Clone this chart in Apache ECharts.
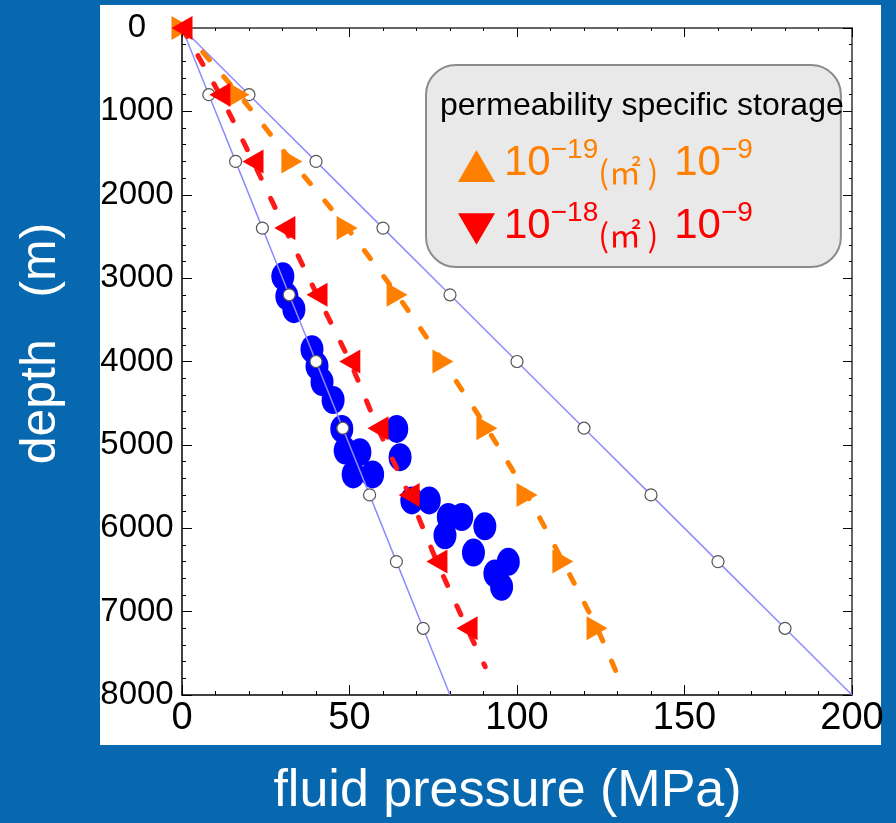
<!DOCTYPE html>
<html>
<head>
<meta charset="utf-8">
<script src="https://cdn.jsdelivr.net/npm/echarts@6/dist/echarts.min.js"></script>
<style>
  html, body { margin: 0; padding: 0; background: #0768b0; }
  #chart { width: 896px; height: 823px; }
</style>
</head>
<body>
<div id="chart"></div>
<script>
// Axis ticks
const pressureTicks = [0, 50, 100, 150, 200];          // MPa
const depthTicks = [0, 1000, 2000, 3000, 4000, 5000, 6000, 7000, 8000]; // m

// Reference gradients, sampled every 800 m
const gradientDepths = [0, 800, 1600, 2400, 3200, 4000, 4800, 5600, 6400, 7200, 8000];
const hydrostaticPressure = [0, 8, 16, 24, 32, 40, 48, 56, 64, 72, 80];
const lithostaticPressure = [0, 20, 40, 60, 80, 100, 120, 140, 160, 180, 200];

// Model results (marker depths), last entry is where each curve stops
const modelDepths = [0, 800, 1600, 2400, 3200, 4000, 4800, 5600, 6400, 7200, 7760];
const k19Pressure = [0, 17.0, 32.8, 49.3, 64.2, 77.9, 91.0, 103.0, 113.7, 123.9, 130.0];
const k18Depths = [0, 800, 1600, 2400, 3200, 4000, 4800, 5600, 6400, 7200, 7660];
const k18Pressure = [0, 11.3, 21.2, 30.7, 40.3, 50.1, 58.5, 67.8, 76.1, 85.1, 90.5];

// Measured fluid pressures
const measuredPressure = [30.1, 31.3, 33.4, 38.8, 40.3, 41.8, 45.1, 47.7, 48.7, 53.1, 51.1, 56.9,
  64.1, 65.1, 68.6, 73.8, 79.5, 83.5, 90.4, 78.5, 87.0, 97.4, 93.4, 95.4];
const measuredDepth = [2978, 3218, 3373, 3852, 4055, 4246, 4462, 4809, 5068, 5088, 5355, 5355,
  4809, 5147, 5666, 5666, 5865, 5865, 5977, 6085, 6292, 6403, 6543, 6702];

const ORANGE = '#ff8000';
const RED = '#ff0000';

function pairs(xs, ys) { return xs.map((x, i) => [x, ys[i]]); }

// hide the marker on the first/last point of a sampled line
function endsWithoutSymbol(points, hideFirst) {
  return points.map((p, i) => {
    const last = i === points.length - 1;
    if (last || (hideFirst && i === 0)) return { value: p, symbol: 'none' };
    return p;
  });
}

const legendLabels = {
  k19: '{of|10}{os|\u221219}{ou|(㎡\u2009)}{o|10}{os|\u22129}',
  k18: '{rf|10}{rs|\u221218}{ru|(㎡\u2009)}{r|10}{rs|\u22129}'
};

// 60px legend line: exponents hang from the top, units sit a little low
function richSet(prefix, color) {
  const s = {};
  s[prefix] = { color, fontSize: 42, fontFamily: 'Liberation Sans', lineHeight: 46, verticalAlign: 'top',
    padding: [6, 0, 0, 0] };
  s[prefix + 'f'] = Object.assign({}, s[prefix], { padding: [6, 0, 0, 4] });
  s[prefix + 's'] = { color, fontSize: 28, fontFamily: 'Liberation Sans', lineHeight: 30, verticalAlign: 'top' };
  s[prefix + 'u'] = { color, fontSize: 32, fontFamily: 'Noto Sans CJK JP', lineHeight: 60, verticalAlign: 'middle',
    padding: [12, 16, 0, 0] };
  return s;
}

const chart = echarts.init(document.getElementById('chart'), null, { renderer: 'canvas' });

const tickStyle = { color: '#000', width: 1 };
const mirrorAxis = {
  type: 'value',
  axisLine: { show: true, onZero: false, lineStyle: { color: '#333', width: 1.5 } },
  axisTick: { show: true, inside: true, length: 9, lineStyle: tickStyle },
  minorTick: { show: true, splitNumber: 5, length: 3, lineStyle: tickStyle },
  axisLabel: { show: false },
  splitLine: { show: false }
};

chart.setOption({
  animation: false,
  backgroundColor: '#0768b0',
  graphic: [{
    type: 'rect', z: -10, silent: true,
    shape: { x: 100, y: 5, width: 781, height: 740 },
    style: { fill: '#ffffff' }
  }],
  title: {
    text: 'permeability specific storage',
    left: 440, top: 90, padding: 0,
    textStyle: { fontSize: 32, fontWeight: 'normal', fontFamily: 'Liberation Sans', color: '#000' }
  },
  legend: {
    data: [
      { name: 'k19', icon: 'triangle' },
      { name: 'k18', icon: 'path://M0,0L40,0L20,34Z' }
    ],
    orient: 'vertical',
    left: 426, top: 65,
    padding: [71, 88, 16, 32],
    itemGap: 11,
    itemWidth: 37, itemHeight: 32,
    symbolRotate: 0,
    selectedMode: false,
    backgroundColor: '#e9e9e9',
    borderColor: '#8c8c8c',
    borderWidth: 2,
    borderRadius: 30,
    formatter: name => legendLabels[name],
    textStyle: {
      fontSize: 42,
      rich: Object.assign({}, richSet('o', ORANGE), richSet('r', RED))
    }
  },
  grid: { left: 182, top: 28, width: 670, height: 669, containLabel: false },
  xAxis: [
    {
      type: 'value', position: 'bottom',
      min: pressureTicks[0], max: pressureTicks[pressureTicks.length - 1],
      interval: pressureTicks[1] - pressureTicks[0],
      axisLine: { show: true, onZero: false, lineStyle: { color: '#000', width: 1.5 } },
      axisTick: { show: true, inside: true, length: 10, lineStyle: tickStyle },
      minorTick: { show: true, splitNumber: 5, length: 4, lineStyle: tickStyle },
      splitLine: { show: false },
      axisLabel: { fontSize: 38, fontFamily: 'Liberation Sans Narrow, Liberation Sans', color: '#000', margin: 5,
        formatter: v => String(v) },
      name: 'fluid pressure (MPa)',
      nameLocation: 'middle',
      nameGap: 71,
      nameTextStyle: { color: '#fff', fontSize: 52, fontFamily: 'Liberation Sans', padding: [0, 19, 0, 0] }
    },
    Object.assign({}, mirrorAxis, {
      position: 'top',
      min: pressureTicks[0], max: pressureTicks[pressureTicks.length - 1],
      interval: pressureTicks[1] - pressureTicks[0]
    })
  ],
  yAxis: [
    {
      type: 'value', position: 'left', inverse: true,
      min: depthTicks[0], max: depthTicks[depthTicks.length - 1],
      interval: depthTicks[1] - depthTicks[0],
      axisLine: { show: true, onZero: false, lineStyle: { color: '#000', width: 1.5 } },
      axisTick: { show: true, inside: true, length: 10, lineStyle: tickStyle },
      minorTick: { show: true, splitNumber: 5, length: 4, lineStyle: tickStyle },
      splitLine: { show: false },
      axisLabel: { fontSize: 33, fontFamily: 'Liberation Sans', color: '#000', align: 'center', margin: 45,
        formatter: v => String(v) },
      name: 'depth   (m)',
      nameLocation: 'middle',
      nameGap: 116,
      nameTextStyle: { color: '#fff', fontSize: 50, fontFamily: 'Liberation Sans', padding: [0, 0, 0, 36] }
    },
    Object.assign({}, mirrorAxis, {
      position: 'right', inverse: true,
      min: depthTicks[0], max: depthTicks[depthTicks.length - 1],
      interval: depthTicks[1] - depthTicks[0]
    })
  ],
  series: [
    {
      name: 'measured',
      type: 'scatter',
      data: pairs(measuredPressure, measuredDepth),
      symbol: 'circle',
      symbolSize: [23, 28],
      itemStyle: { color: '#0000ff', opacity: 1 },
      z: 2
    },
    {
      name: 'hydrostatic',
      type: 'line',
      data: endsWithoutSymbol(pairs(hydrostaticPressure, gradientDepths), true),
      lineStyle: { color: '#8c8cff', width: 1.5 },
      symbol: 'circle', symbolSize: 12, showSymbol: true,
      itemStyle: { color: '#ffffff', borderColor: '#555', borderWidth: 1.2 },
      z: 3
    },
    {
      name: 'lithostatic',
      type: 'line',
      data: endsWithoutSymbol(pairs(lithostaticPressure, gradientDepths), true),
      lineStyle: { color: '#8c8cff', width: 1.5 },
      symbol: 'circle', symbolSize: 12, showSymbol: true,
      itemStyle: { color: '#ffffff', borderColor: '#555', borderWidth: 1.2 },
      z: 3
    },
    {
      name: 'k19',
      type: 'line',
      data: endsWithoutSymbol(pairs(k19Pressure, modelDepths), false),
      smooth: 0.25,
      lineStyle: { color: ORANGE, width: 5, type: [10, 22], cap: 'round' },
      symbol: 'triangle', symbolSize: [24, 21], symbolRotate: -90,
      itemStyle: { color: ORANGE },
      z: 4
    },
    {
      name: 'k18',
      type: 'line',
      data: endsWithoutSymbol(pairs(k18Pressure, k18Depths), false),
      smooth: 0.25,
      lineStyle: { color: '#ff1a1a', width: 5, type: [10, 22], cap: 'round' },
      symbol: 'triangle', symbolSize: [24, 21], symbolRotate: 90,
      itemStyle: { color: RED },
      z: 5
    }
  ]
});
</script>
</body>
</html>
